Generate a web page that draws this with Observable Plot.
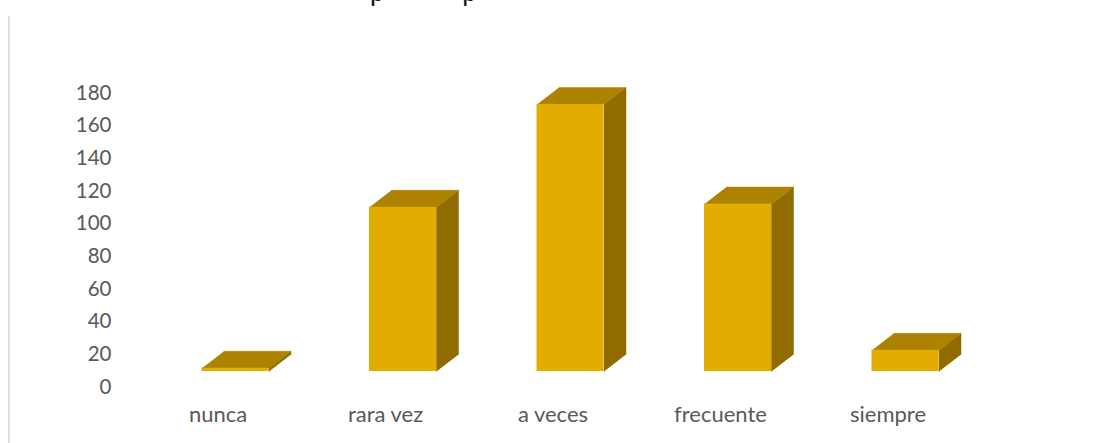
<!DOCTYPE html>
<html><head><meta charset="utf-8">
<script src="https://cdn.jsdelivr.net/npm/d3@7"></script>
<script src="https://cdn.jsdelivr.net/npm/@observablehq/plot@0.6"></script>
<style>
html,body{margin:0;padding:0;background:#fff;width:1096px;height:443px;overflow:hidden}
#wrap{position:relative;width:1096px;height:443px;overflow:hidden}
#edge{position:absolute;left:8px;top:16px;width:2px;bottom:0;background:#e0e0e0}
#title{position:absolute;left:370px;top:-25px;font:26px Lato,sans-serif;color:#111;white-space:pre;word-spacing:71px}
svg{display:block}
</style></head><body><div id="wrap"><div id="edge"></div><div id="title">p p</div><div id="c"></div></div>
<script>
const categories = ["nunca","rara vez","a veces","frecuente","siempre"];
const values = [2,100.5,163.5,102.5,13];
const yTicks = [0,20,40,60,80,100,120,140,160,180];
const frontColor = "#e3ac00", topColor = "#ad8200", sideColor = "#8f6b00";
const W = 1096, H = 443;
const step = 167.5, x0 = 235, base = 371, pxPerUnit = 294/180;
const depthX = 22/step, depthY = 17/pxPerUnit, half = 33.5/step;
const rows = categories.map((c,i)=>({c,i,v:values[i]}));
const topFaces = rows.flatMap(d=>[
  {k:d.c,x:d.i-half,y:d.v},{k:d.c,x:d.i+half,y:d.v},
  {k:d.c,x:d.i+half+depthX,y:d.v+depthY},{k:d.c,x:d.i-half+depthX,y:d.v+depthY}]);
const sideFaces = rows.flatMap(d=>[
  {k:d.c,x:d.i+half,y:0},{k:d.c,x:d.i+half,y:d.v},
  {k:d.c,x:d.i+half+depthX,y:d.v+depthY},{k:d.c,x:d.i+half+depthX,y:depthY}]);
const plot = Plot.plot({
  width:W,height:H,margin:0,
  style:{background:"transparent",fontFamily:"Lato, sans-serif",color:"#595959"},
  x:{domain:[-x0/step,(W-x0)/step],range:[0,W]},
  y:{domain:[-(H-base)/pxPerUnit,base/pxPerUnit],range:[H,0]},
  marks:[
    Plot.axisY({ticks:yTicks,anchor:"left",tickSize:0,tickPadding:0,dx:111,dy:15.5,label:null,fontSize:20.5}),
    Plot.axisX({ticks:d3.range(categories.length),tickFormat:i=>categories[i],anchor:"bottom",tickSize:0,tickPadding:0,dx:-17.5,dy:-37,label:null,fontSize:22}),
    Plot.line(sideFaces,{x:"x",y:"y",z:"k",fill:sideColor,stroke:sideColor,strokeWidth:.5}),
    Plot.line(topFaces,{x:"x",y:"y",z:"k",fill:topColor,stroke:topColor,strokeWidth:.5}),
    Plot.rect(rows,{x1:d=>d.i-half,x2:d=>d.i+half,y1:0,y2:"v",fill:frontColor})
  ]
});
document.getElementById("c").appendChild(plot);
</script></body></html>
